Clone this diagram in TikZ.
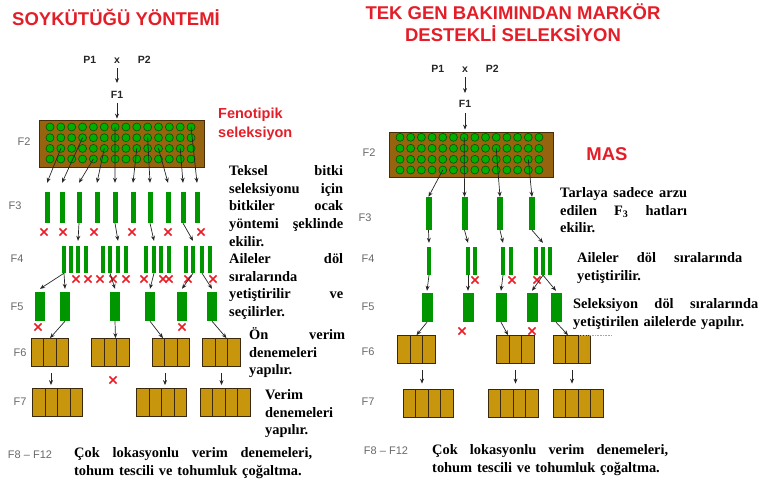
\documentclass[tikz,border=0pt]{standalone}
\usepackage{fontspec}
\setmainfont{Liberation Serif}
\setsansfont{Liberation Sans}
\usepackage{tikz}
\usetikzlibrary{arrows.meta,positioning,shapes.misc}
\hyphenpenalty=10000
\definecolor{titlered} {RGB}{228, 30, 40}
\definecolor{gengray}  {RGB}{105,105,105}
\definecolor{soil}     {RGB}{150,100, 15}
\definecolor{soilline} {RGB}{ 70, 45, 10}
\definecolor{plantgrn} {RGB}{  0,175,  0}
\definecolor{plantline}{RGB}{  0, 85,  0}
\definecolor{rowgrn}   {RGB}{  0,150,  0}
\definecolor{plotgold} {RGB}{200,150, 12}
\definecolor{plotline} {RGB}{ 60, 40, 10}
\definecolor{xred}     {RGB}{235, 30, 40}
\tikzset{
  headline/.style={font=\sffamily\bfseries\fontsize{18.5}{21}\selectfont,
                   text=titlered,inner sep=0pt},
  pheno/.style={font=\sffamily\bfseries\fontsize{14.5}{18.5}\selectfont,
                text=titlered,inner sep=0pt,align=left},
  parent/.style={font=\sffamily\bfseries\fontsize{10.5}{12}\selectfont,
                 text=black!85,inner sep=0pt},
  gen/.style={font=\sffamily\fontsize{11}{13}\selectfont,
              text=gengray,inner sep=0pt},
  note/.style={font=\rmfamily\bfseries\fontsize{14.4}{17.7}\selectfont,
               inner sep=0pt,align=left,anchor=base west,text width=#1},
  field/.style={draw=soilline,fill=soil,line width=0.8pt,inner sep=0pt,
                minimum width=165pt,minimum height=47pt},
  plant/.style={circle,draw=plantline,fill=plantgrn,line width=0.6pt,
                inner sep=0pt,minimum size=8pt},
  greenrow/.style 2 args={fill=rowgrn,inner sep=0pt,
                          minimum width=#1,minimum height=#2},
  plotbox/.style={draw=plotline,fill=plotgold,line width=0.8pt,inner sep=0pt,
                  minimum height=28pt,minimum width=#1*12.5pt,
                  path picture={\foreach \k in {1,...,#1}
                    \draw[plotline,line width=0.8pt]
                      ([xshift=\k*12.5pt]path picture bounding box.south west) --
                      ([xshift=\k*12.5pt]path picture bounding box.north west);}},
  xmark/.style={cross out,draw=xred,line width=1.6pt,inner sep=0pt,
                minimum size=5.5pt},
  arr/.style={-{Stealth[length=5pt,width=4pt]},line width=0.7pt,color=black!85},
}
\begin{document}
\begin{tikzpicture}[x=1pt,y=-1pt,>=Stealth]
  \useasboundingbox (0,0) rectangle (762,479);

  % titles
  \node[headline,anchor=base west] (Ltitle) at (12,25.5) {SOYKÜTÜĞÜ YÖNTEMİ};
  \node[headline,anchor=base] (Rtitle1) at (513,19) {TEK GEN BAKIMINDAN MARKÖR};
  \node[headline,anchor=base] (Rtitle2) at (513,41) {DESTEKLİ SELEKSİYON};

  % ---------------- left: pedigree
  \node[parent,anchor=base] (Lx) at (117,63) {x};
  \node[parent,base left=17.5pt of Lx] (LP1) {P1};
  \node[parent,base right=17.5pt of Lx] (LP2) {P2};
  \node[parent,anchor=base] (LF1) at (117,98.5) {F1};
  \node[field] (LF2) at (121.5,143.5) {};
  \draw[arr,shorten <=5pt,shorten >=8pt] (Lx) -- (LF1);
  \draw[arr,shorten <=4.5pt,shorten >=1pt] (LF1) -- (LF1 |- LF2.north);
  \foreach \r/\y in {1/127,2/137.7,3/148.4,4/159}
    \foreach \c in {1,...,14}
      \node[plant] (Ld\r-\c) at ({50+10.85*(\c-1)},\y) {};

  % F3
  \foreach \x [count=\i] in {47,62,79,97,115,133,150,168,183,197}
    \node[greenrow={5pt}{31pt}] (L3-\i) at (\x,207.5) {};
  \foreach \d/\b in {3-2/1,2-4/2,4-5/3,3-6/4,1-7/5,3-9/6,2-10/7,3-11/8,3-13/9,1-14/10}
    \draw[arr] (Ld\d.center) -- ([yshift=9pt]L3-\b.north);
  \foreach \x [count=\i] in {44,63,94,132,168,201}
    \node[xmark] (Lx3-\i) at (\x,232) {};

  % F4
  \foreach \g/\xs in {1/{64,71,78,86},2/{103,110,118,126},3/{146,154,161,169},4/{186,193,202,210}}
    \foreach \x [count=\k] in \xs
      \node[greenrow={3.5pt}{27pt}] (L4-\g-\k) at (\x,259.5) {};
  \foreach \d/\b in {3/1-3,5/2-3,7/3-2,9/4-2}
    \draw[arr] (L3-\d.south) -- ([yshift=5pt]L4-\b.north);
  \foreach \x [count=\i] in {76,88,100,113,126,144,163,169,188,213}
    \node[xmark] (Lx4-\i) at (\x,279) {};

  % F5
  \foreach \x [count=\i] in {40,65,115,150,182,212}
    \node[greenrow={10pt}{29pt}] (L5-\i) at (\x,306.5) {};
  \foreach \s/\b in {1-1/1,1-1/2,2-2/3,3-2/4,4-2/5,4-3/6}
    \draw[arr] (L4-\s.south) -- ([yshift=3pt]L5-\b.north);
  \foreach \x [count=\i] in {38,182}
    \node[xmark] (Lx5-\i) at (\x,327) {};

  % F6, F7
  \foreach \x [count=\i] in {50,110.5,171,221.5}
    \node[plotbox=3] (L6-\i) at (\x,352.5) {};
  \draw[arr] (L5-2.south) -- (L6-1.north);
  \draw[arr] (L5-3.south) -- ([xshift=5pt]L6-2.north);
  \draw[arr] (L5-4.south) -- ([xshift=-8pt]L6-3.north);
  \draw[arr] (L5-6.south) -- ([xshift=5pt]L6-4.north);
  \foreach \x [count=\i] in {57.5,161.5,225}
    \node[plotbox=4] (L7-\i) at (\x,402.5) {};
  \draw[arr] ([xshift=1pt,yshift=-6pt]L6-1.south) -- ([xshift=1pt,yshift=3pt]L6-1.south |- L7-1.north);
  \draw[arr] ([xshift=-6pt,yshift=-6pt]L6-3.south) -- ([xshift=-6pt,yshift=3pt]L6-3.south |- L7-2.north);
  \draw[arr] ([yshift=-6pt]L6-4.south) -- ([yshift=3pt]L6-4.south |- L7-3.north);
  \node[xmark] (Lx6) at (113,380) {};

  % generations, left
  \node[gen] (LgF2) at (24,142) {F2};
  \node[gen] (LgF3) at (15,206) {F3};
  \node[gen] (LgF4) at (17,259) {F4};
  \node[gen] (LgF5) at (17,307) {F5};
  \node[gen] (LgF6) at (20,353) {F6};
  \node[gen] (LgF7) at (20,402) {F7};
  \node[gen] (LgF8) at (30,455) {F8 – F12};

  % notes, left
  \node[pheno,anchor=base west] (Lpheno) at (218,137) {Fenotipik\\seleksiyon};
  \node[note=114pt] (Ln1) at (229,175.5)
    {Teksel\hfill bitki\\seleksiyonu\hfill için\\bitkiler\hfill ocak\\yöntemi\hfill şeklinde\\ekilir.};
  \node[note=114pt] (Ln2) at (229,263.5)
    {Aileler\hfill döl\\sıralarında\\yetiştirilir\hfill ve\\seçilirler.};
  \node[note=96pt] (Ln3) at (249,339.5) {Ön\hfill verim\\denemeleri\\yapılır.};
  \node[note=80pt] (Ln4) at (265,399.5) {Verim\\denemeleri\\yapılır.};
  \node[note=238pt] (Ln5) at (74,457.5)
    {Çok\hfill lokasyonlu\hfill verim\hfill denemeleri,\\tohum tescili ve tohumluk çoğaltma.};

  % ---------------- right: marker assisted selection
  \node[parent,anchor=base] (Rx) at (465,72.5) {x};
  \node[parent,base left=17.5pt of Rx] (RP1) {P1};
  \node[parent,base right=17.5pt of Rx] (RP2) {P2};
  \node[parent,anchor=base] (RF1) at (465,107.5) {F1};
  \node[field,minimum width=164pt,minimum height=45pt] (RF2) at (471,154.5) {};
  \draw[arr,shorten <=4.5pt,shorten >=7pt] (Rx) -- (RF1);
  \draw[arr,shorten <=5.5pt,shorten >=2pt] (RF1) -- (RF1 |- RF2.north);
  \foreach \r/\y in {1/137.3,2/148.3,3/159.3,4/170}
    \foreach \c in {1,...,14}
      \node[plant] (Rd\r-\c) at ({400+10.69*(\c-1)},\y) {};

  % F3
  \foreach \x [count=\i] in {428.5,464.5,500,532}
    \node[greenrow={6pt}{33pt}] (R3-\i) at (\x,213.5) {};
  \foreach \d/\b in {4-5/1,1-7/2,2-10/3,3-13/4}
    \draw[arr] (Rd\d.center) -- (R3-\b.north);

  % F4
  \foreach \g/\xs in {1/{429},2/{468,475},3/{503,511},4/{536,543,550}}
    \foreach \x [count=\k] in \xs
      \node[greenrow={3.5pt}{28pt}] (R4-\g-\k) at (\x,261) {};
  \foreach \d/\b in {1/1-1,2/2-1,3/3-1,4/4-2}
    \draw[arr] (R3-\d.south) -- ([yshift=4pt]R4-\b.north);
  \foreach \x [count=\i] in {475,512,537}
    \node[xmark] (Rx4-\i) at (\x,280) {};

  % F5
  \foreach \x [count=\i] in {427,468,501,532,556}
    \node[greenrow={11pt}{29pt}] (R5-\i) at (\x,307.5) {};
  \foreach \s/\b in {1-1/1,2-1/2,3-1/3,4-2/4,4-2/5}
    \draw[arr] (R4-\s.south) -- ([yshift=2pt]R5-\b.north);
  \foreach \x [count=\i] in {462,532}
    \node[xmark] (Rx5-\i) at (\x,331) {};

  % F6, F7
  \foreach \x [count=\i] in {416.5,515.5,572}
    \node[plotbox=3] (R6-\i) at (\x,349.5) {};
  \draw[arr] (R5-1.south) -- (R6-1.north);
  \draw[arr] (R5-3.south) -- ([xshift=-7.5pt]R6-2.north);
  \draw[arr] (R5-5.south) -- ([xshift=-4pt]R6-3.north);
  \draw[black!35,densely dotted,line width=0.6pt] (579,335) -- (612,335);
  \foreach \x [count=\i] in {428,513,578}
    \node[plotbox=4] (R7-\i) at (\x,403) {};
  \draw[arr] ([xshift=5.5pt,yshift=-6pt]R6-1.south) -- ([xshift=5.5pt,yshift=5pt]R6-1.south |- R7-1.north);
  \draw[arr] ([yshift=-6pt]R6-2.south) -- ([yshift=5pt]R6-2.south |- R7-2.north);
  \draw[arr] ([yshift=-6pt]R6-3.south) -- ([yshift=5pt]R6-3.south |- R7-3.north);

  % generations, right
  \node[gen] (RgF2) at (369,153) {F2};
  \node[gen] (RgF3) at (365,218) {F3};
  \node[gen] (RgF4) at (368,259) {F4};
  \node[gen] (RgF5) at (368,307) {F5};
  \node[gen] (RgF6) at (368,352) {F6};
  \node[gen] (RgF7) at (368,402) {F7};
  \node[gen] (RgF8) at (386,451) {F8 – F12};

  % notes, right
  \node[headline,anchor=base] (Rmas) at (607,160) {MAS};
  \node[note=127pt] (Rn1) at (560,197.5)
    {Tarlaya\hfill sadece\hfill arzu\\edilen\hfill F\textsubscript{3}\hfill hatları\\ekilir.};
  \node[note=165pt] (Rn2) at (577,262.5)
    {Aileler\hfill döl\hfill sıralarında\\yetiştirilir.};
  \node[note=185pt] (Rn3) at (573,308.5)
    {Seleksiyon\hfill döl\hfill sıralarında\\yetiştirilen ailelerde yapılır.};
  \node[note=236pt] (Rn4) at (432,454.5)
    {Çok\hfill lokasyonlu\hfill verim\hfill denemeleri,\\tohum tescili ve tohumluk çoğaltma.};
\end{tikzpicture}
\end{document}
